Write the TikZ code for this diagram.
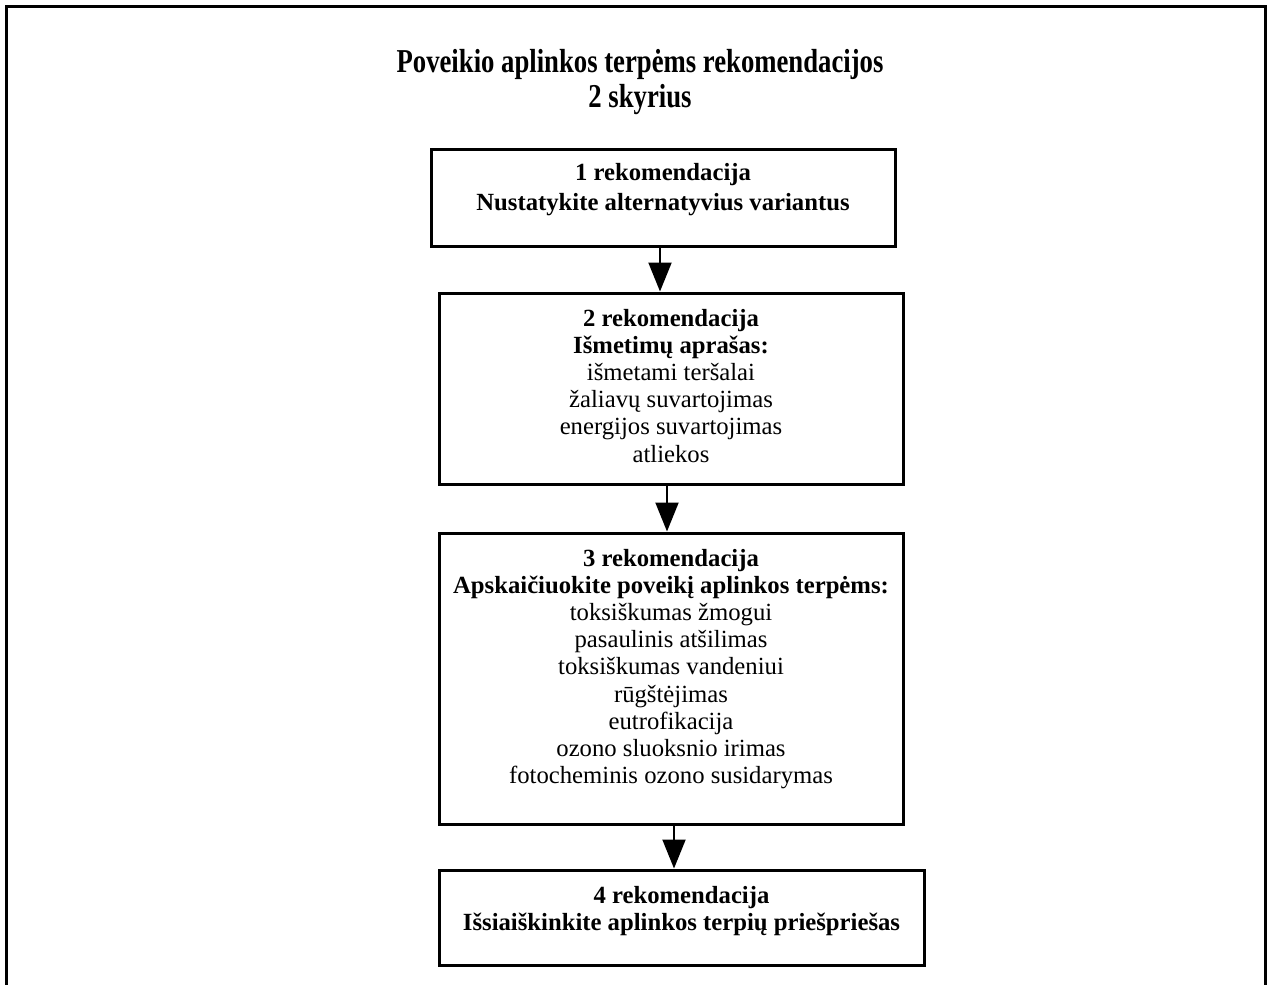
\documentclass[tikz,border=0pt]{standalone}
\usepackage{fontspec}
\setmainfont{Liberation Serif}
\usetikzlibrary{positioning,arrows.meta}

\begin{document}
\begin{tikzpicture}[x=0.5pt,y=-0.5pt,
	box/.style={draw,line width=1.5pt,rectangle,inner sep=0pt},
	txt/.style={align=center,inner sep=0pt,font=\fontsize{12.35}{13.6}\selectfont},
	arr/.style={-{Triangle[width=11.5pt,length=14.5pt]},line width=1pt}]
	\useasboundingbox (0,0) rectangle (1269,985);
	\draw[line width=1.5pt] (6,985) -- (6,6) -- (1265,6) -- (1265,985);
	\node[align=center,inner sep=0pt,anchor=north,font=\fontsize{13.35}{17.5}\selectfont\bfseries](title) at (640,49) {\scalebox{1}[1.25]{Poveikio aplinkos terpėms rekomendacijos}\\\scalebox{1}[1.25]{2 skyrius}};
	% boxes
	\node[box,minimum width=232pt,minimum height=48.5pt](b1) at (663,197.5) {};
	\node[box,minimum width=232pt,minimum height=95.5pt](b2) at (671,388.5) {};
	\node[box,minimum width=232pt,minimum height=145.5pt](b3) at (671,678.5) {};
	\node[box,minimum width=242.5pt,minimum height=47.5pt](b4) at (681.5,917.5) {};
	% texts
	\node[txt,below=7.5pt of b1.north](t1) {\textbf{1 rekomendacija}\\[1.5pt]\textbf{Nustatykite alternatyvius variantus}};
	\node[txt,below=8.5pt of b2.north](t2) {\textbf{2 rekomendacija}\\\textbf{Išmetimų aprašas:}\\išmetami teršalai\\žaliavų suvartojimas\\energijos suvartojimas\\atliekos};
	\node[txt,below=8.5pt of b3.north](t3) {\textbf{3 rekomendacija}\\\textbf{Apskaičiuokite poveikį aplinkos terpėms:}\\toksiškumas žmogui\\pasaulinis atšilimas\\toksiškumas vandeniui\\rūgštėjimas\\eutrofikacija\\ozono sluoksnio irimas\\fotocheminis ozono susidarymas};
	\node[txt,below=8.5pt of b4.north](t4) {\textbf{4 rekomendacija}\\\textbf{Išsiaiškinkite aplinkos terpių priešpriešas}};
	% arrows
	\draw[arr] ([xshift=-1.5pt]b1.south) -- ([xshift=-1.5pt]b1.south |- b2.north);
	\draw[arr] ([xshift=-2pt]b2.south) -- ([xshift=-2pt]b2.south |- b3.north);
	\draw[arr] ([xshift=1.5pt]b3.south) -- ([xshift=1.5pt]b3.south |- b4.north);
\end{tikzpicture}
\end{document}
